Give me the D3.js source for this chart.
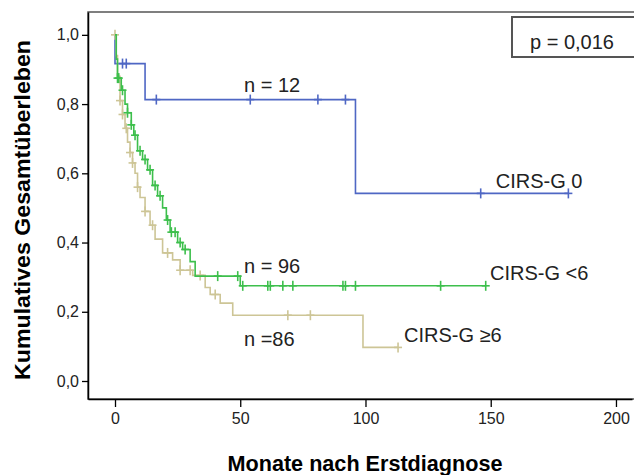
<!DOCTYPE html>
<html>
<head>
<meta charset="utf-8">
<script src="https://cdn.jsdelivr.net/npm/d3@7"></script>
<style>
  body { margin: 0; background: #fff; }
  svg { display: block; font-family: "Liberation Sans", Arial, sans-serif; }
</style>
</head>
<body>
<svg id="chart" width="634" height="475"></svg>
<script>
// Kaplan-Meier steps (time in months, survival after that time)
const blueTimes = [0, 0, 12, 96, 181];
const blueSurv = [1.0, 0.917, 0.813, 0.542, 0.542];
const blueCensor = [3, 4.5, 16.5, 54, 81, 92, 146, 181];

const greenTimes = [0, 0.5, 1, 2.5, 4, 5, 6.5, 7.5, 9, 11, 13, 15, 17, 19, 20.5, 22, 25, 27, 30, 32, 50, 148];
const greenSurv = [1.0, 0.93, 0.875, 0.84, 0.80, 0.775, 0.74, 0.71, 0.665, 0.64, 0.61, 0.565, 0.535, 0.50, 0.465, 0.43, 0.40, 0.38, 0.345, 0.303, 0.275, 0.275];
const greenCensor = [1, 1.5, 3, 5, 6.5, 8, 10, 12, 14, 16, 18, 21, 22.5, 24, 26, 28, 41, 49, 51, 61, 62, 67, 71, 91, 92, 96, 130, 148];

const tanTimes = [0, 0.5, 1, 2, 3, 4, 5, 6, 7, 8, 9, 10, 12, 14, 16, 19, 23, 26, 31, 36, 38, 42, 47, 99, 113];
const tanSurv = [1.0, 0.94, 0.88, 0.81, 0.77, 0.73, 0.69, 0.66, 0.63, 0.60, 0.56, 0.53, 0.49, 0.45, 0.41, 0.37, 0.35, 0.32, 0.305, 0.27, 0.25, 0.225, 0.19, 0.097, 0.097];
const tanCensor = [0, 2, 3, 4.5, 6, 7, 9, 12, 15, 21, 26, 30, 34, 40, 69, 78, 113];

const xTicks = [0, 50, 100, 150, 200];
const yTicks = [0, 0.2, 0.4, 0.6, 0.8, 1.0];

const groups = [
  { name: 'CIRS-G 0', n: 'n = 12', color: '#4f67c4', times: blueTimes, surv: blueSurv, censor: blueCensor },
  { name: 'CIRS-G ≥6', n: 'n =86', color: '#cdc596', times: tanTimes, surv: tanSurv, censor: tanCensor },
  { name: 'CIRS-G <6', n: 'n = 96', color: '#3dbf4c', times: greenTimes, surv: greenSurv, censor: greenCensor }
];

// plot frame
const frame = { left: 88, right: 632, top: 12, bottom: 399 };

const svg = d3.select('#chart');

const x = d3.scaleLinear().domain([-10.78, 206.4]).range([frame.left, frame.right]);
const y = d3.scaleLinear().domain([-0.052, 1.066]).range([frame.bottom, frame.top]);

// frame (top / right drawn gray)
svg.append('rect')
  .attr('x', frame.left).attr('y', frame.top)
  .attr('width', frame.right - frame.left + 4).attr('height', frame.bottom - frame.top)
  .attr('fill', 'none').attr('stroke', '#555').attr('stroke-width', 1.5);

// axes
const xAxis = svg.append('g')
  .attr('transform', `translate(0,${frame.bottom})`)
  .call(d3.axisBottom(x).tickValues(xTicks).tickSize(8).tickPadding(6).tickSizeOuter(0)
    .tickFormat(d3.format('d')));

const yAxis = svg.append('g')
  .attr('transform', `translate(${frame.left},0)`)
  .call(d3.axisLeft(y).tickValues(yTicks).tickSize(6).tickPadding(3).tickSizeOuter(0)
    .tickFormat(d => d3.format('.1f')(d).replace('.', ',')));

[xAxis, yAxis].forEach(a => {
  a.select('.domain').attr('stroke', '#000').attr('stroke-width', 1.5);
  a.selectAll('.tick line').attr('stroke', '#000').attr('stroke-width', 1.3);
  a.selectAll('.tick text')
    .attr('fill', '#222')
    .style('font-size', '16px');
});

// step function lookup for censor marks
function survAt(g, t) {
  let s = g.surv[0];
  for (let i = 0; i < g.times.length; i++) {
    if (g.times[i] <= t) s = g.surv[i];
  }
  return s;
}

const line = d3.line()
  .x(d => x(d[0]))
  .y(d => y(d[1]))
  .curve(d3.curveStepAfter);

groups.forEach(g => {
  const pts = g.times.map((t, i) => [t, g.surv[i]]);
  svg.append('path')
    .datum(pts)
    .attr('d', line)
    .attr('fill', 'none')
    .attr('stroke', g.color)
    .attr('stroke-width', 1.6);

  const marks = svg.append('g').attr('stroke', g.color).attr('stroke-width', 1.6);
  g.censor.forEach(t => {
    const cx = x(t), cy = y(survAt(g, t));
    marks.append('line').attr('x1', cx).attr('x2', cx).attr('y1', cy - 5).attr('y2', cy + 5);
    marks.append('line').attr('x1', cx - 4).attr('x2', cx + 4).attr('y1', cy).attr('y2', cy);
  });
});

// annotations
const labels = [
  { text: 'n = 12', t: 51.5, s: 0.835 },
  { text: 'n = 96', t: 51.5, s: 0.312 },
  { text: 'n =86', t: 51.5, s: 0.10 },
  { text: 'CIRS-G 0', t: 152, s: 0.558 },
  { text: 'CIRS-G <6', t: 149.7, s: 0.292 },
  { text: 'CIRS-G ≥6', t: 115.4, s: 0.113 }
];
svg.append('g').selectAll('text')
  .data(labels)
  .join('text')
  .attr('x', d => x(d.t))
  .attr('y', d => y(d.s))
  .attr('fill', '#222')
  .style('font-size', '20px')
  .text(d => d.text);

// p-value box
svg.append('rect')
  .attr('x', 512).attr('y', 17).attr('width', 124).attr('height', 40)
  .attr('fill', '#fff').attr('stroke', '#555').attr('stroke-width', 2);
svg.append('text')
  .attr('x', 572).attr('y', 49)
  .attr('text-anchor', 'middle')
  .attr('fill', '#222')
  .style('font-size', '20px')
  .text('p = 0,016');

// axis titles
svg.append('text')
  .attr('x', 365).attr('y', 471)
  .attr('text-anchor', 'middle')
  .attr('textLength', 275)
  .attr('lengthAdjust', 'spacingAndGlyphs')
  .style('font-weight', 'bold')
  .style('font-size', '22px')
  .text('Monate nach Erstdiagnose');

svg.append('text')
  .attr('transform', 'translate(30,210) rotate(-90)')
  .attr('text-anchor', 'middle')
  .attr('textLength', 340)
  .attr('lengthAdjust', 'spacingAndGlyphs')
  .style('font-weight', 'bold')
  .style('font-size', '22px')
  .text('Kumulatives Gesamtüberleben');
</script>
</body>
</html>
